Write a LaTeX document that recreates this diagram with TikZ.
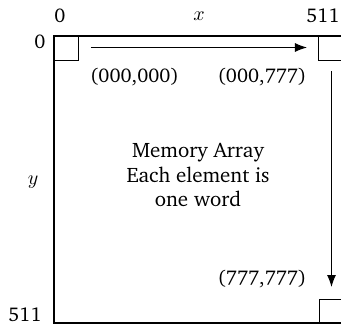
\documentclass[tikz,border=0pt]{standalone}
\usepackage[T1]{fontenc}
\usepackage{charter}
\usetikzlibrary{arrows.meta}
\tikzset{
  cell/.style={draw, line width=0.5bp, minimum size=12bp, inner sep=0pt, anchor=north west},
  lbl/.style={inner sep=0pt, font=\normalsize},
  flow/.style={line width=0.5bp, -{Latex[length=6bp,width=4.5bp]}}
}
\begin{document}
\begin{tikzpicture}[x=0.5bp,y=-0.5bp]
\useasboundingbox (0,0) rectangle (341,329);
% outer box
\draw[line width=1bp] (342,36) -- (54.5,36) -- (54.5,323) -- (342,323);
% cells
\node[cell] (c00) at (54.5,36) {};
\node[cell] (c0e) at (318,36) {};
\node[cell] (cee) at (319,299) {};
% arrows
\coordinate (hs) at (91,47.5);
\coordinate (he) at (307,47.5);
\coordinate (vs) at (331.5,71);
\coordinate (ve) at (331.5,287);
\draw[flow] (hs) -- (he);
\draw[flow] (vs) -- (ve);
% labels
\node[lbl] (t0) at (60,16) {0};
\node[lbl] (tx) at (199,16) {$x$};
\node[lbl] (t511) at (323,16) {511};
\node[lbl] (l0) at (40,42) {0};
\node[lbl] (ly) at (33,182) {$y$};
\node[lbl] (l511) at (25,315) {511};
\node[lbl] (a) at (134.5,77) {(000,000)};
\node[lbl] (b) at (262,77) {(000,777)};
\node[lbl] (c) at (262,279) {(777,777)};
\node[lbl, align=center, font=\fontsize{10.5}{12.2}\selectfont] (m) at (198,175) {Memory Array\\Each element is\\one word};
\end{tikzpicture}
\end{document}
